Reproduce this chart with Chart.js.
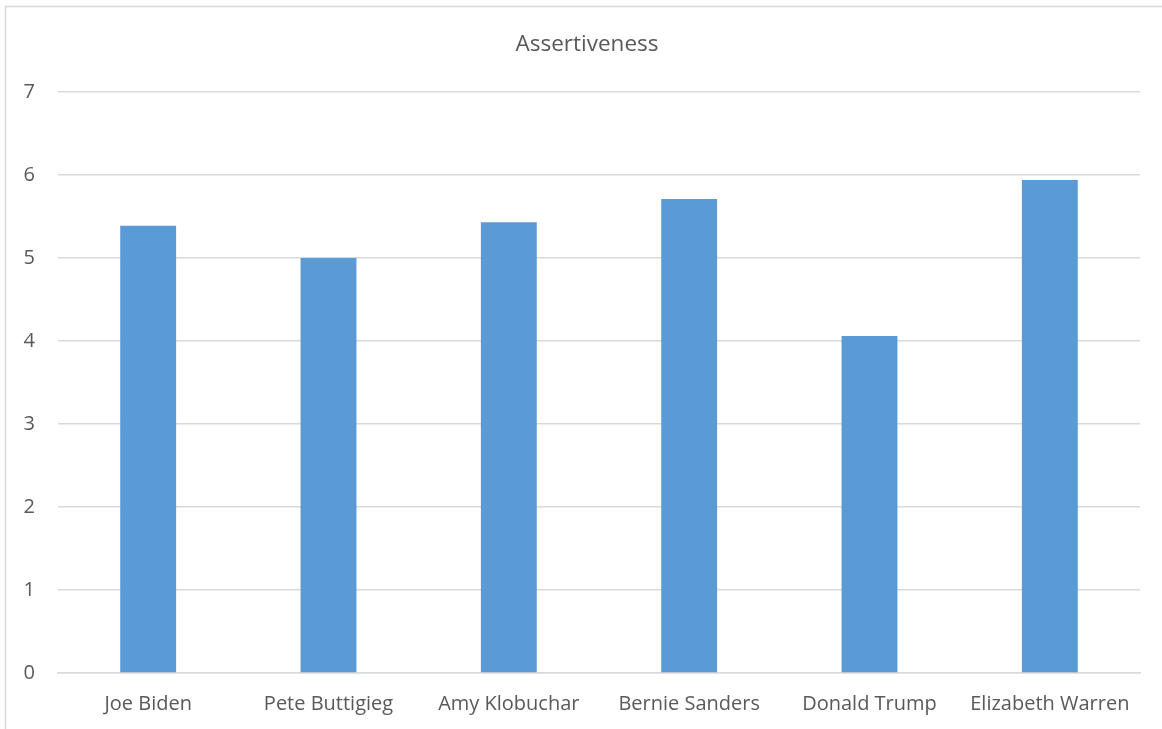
<!DOCTYPE html>
<html>
<head>
<meta charset="utf-8">
<script src="https://cdn.jsdelivr.net/npm/chart.js@4"></script>
<style>
  html, body { margin: 0; padding: 0; background: #fff; }
  #wrap { width: 1162px; height: 729px; position: relative; }
</style>
</head>
<body>
<div id="wrap"><canvas id="myChart" width="1162" height="729"></canvas></div>
<script>
const candidates = ['Joe Biden', 'Pete Buttigieg', 'Amy Klobuchar', 'Bernie Sanders', 'Donald Trump', 'Elizabeth Warren']
const assertiveness = [5.39, 5.0, 5.43, 5.71, 4.06, 5.94]
const yTicks = [0, 1, 2, 3, 4, 5, 6, 7]

const textColor = '#595959'
const gridColor = '#d9d9d9'
const fontFamily = "'Open Sans', 'Liberation Sans', sans-serif"

// light frame round the chart, like the spreadsheet chart box
const framePlugin = {
  id: 'frame',
  beforeDraw(chart) {
    const ctx = chart.ctx
    ctx.save()
    ctx.strokeStyle = gridColor
    ctx.lineWidth = 1.5
    ctx.beginPath()
    ctx.moveTo(5.5, chart.height)
    ctx.lineTo(5.5, 6.5)
    ctx.lineTo(chart.width, 6.5)
    ctx.stroke()
    ctx.restore()
  }
}

const data = {
  labels: candidates,
  datasets: [{
    label: 'Assertiveness',
    backgroundColor: '#5b9bd5',
    borderColor: '#5b9bd5',
    borderWidth: 0,
    data: assertiveness,
    categoryPercentage: 1.0,
    barPercentage: 0.31
  }]
}

const config = {
  type: 'bar',
  data: data,
  plugins: [framePlugin],
  options: {
    responsive: false,
    animation: false,
    layout: { padding: { left: 12, right: 0, top: 0, bottom: 0 } },
    plugins: {
      legend: { display: false },
      tooltip: { enabled: false },
      title: {
        display: true,
        text: 'Assertiveness',
        color: textColor,
        font: { family: fontFamily, size: 22.5, weight: 'normal' },
        padding: { top: 31, bottom: 34 }
      }
    },
    scales: {
      x: {
        afterFit(scale) {
          scale.height = 56
        },
        grid: { display: false, drawTicks: false },
        border: { display: true, color: gridColor, width: 1.5 },
        ticks: { color: textColor, font: { family: fontFamily, size: 20 }, padding: 19, maxRotation: 0 }
      },
      y: {
        min: 0,
        max: 7,
        afterBuildTicks(scale) {
          scale.ticks = yTicks.map(v => ({ value: v }))
        },
        afterFit(scale) {
          scale.width = 46
        },
        grid: { color: gridColor, lineWidth: 1.5, drawTicks: false },
        border: { display: false },
        ticks: { color: textColor, font: { family: fontFamily, size: 20 }, padding: 23 }
      },
      // empty strip on the right, keeps the plot clear of the frame
      yRight: {
        position: 'right',
        min: 0,
        max: 7,
        afterFit(scale) {
          scale.width = 22
        },
        grid: { display: false, drawTicks: false },
        border: { display: false },
        ticks: { display: false }
      }
    }
  }
}

var myChart = new Chart('myChart', config)
</script>
</body>
</html>
